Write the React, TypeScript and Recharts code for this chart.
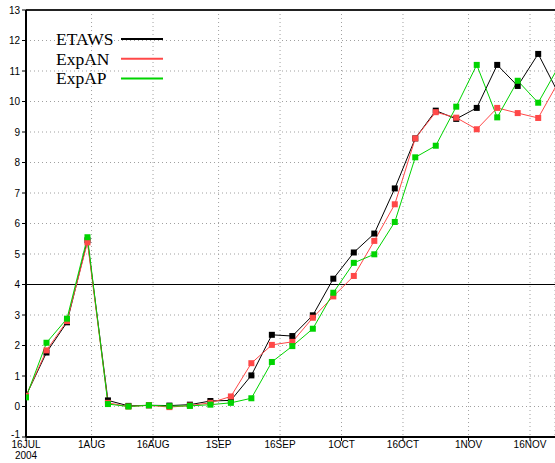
import React from 'react';
import { LineChart, Line, XAxis, YAxis, CartesianGrid, ReferenceLine } from 'recharts';

const days = [0, 5, 10, 15, 20, 25, 30, 35, 40, 45, 50, 55, 60, 65, 70, 75, 80, 85, 90, 95, 100, 105, 110, 115, 120, 125, 130];
const etaws = [0.35, 1.77, 2.76, 5.45, 0.2, 0.02, 0.04, 0.03, 0.06, 0.18, 0.2, 1.02, 2.35, 2.31, 2.99, 4.19, 5.05, 5.67, 7.15, 8.79, 9.7, 9.43, 9.79, 11.2, 10.51, 11.56, 10.25];
const expAN = [0.35, 1.84, 2.8, 5.38, 0.12, 0.0, 0.04, -0.02, 0.03, 0.12, 0.33, 1.42, 2.02, 2.12, 2.91, 3.61, 4.28, 5.43, 6.63, 8.79, 9.65, 9.47, 9.09, 9.79, 9.62, 9.46, 10.66];
const expAP = [0.3, 2.09, 2.88, 5.55, 0.08, 0.0, 0.04, 0.01, 0.02, 0.06, 0.12, 0.27, 1.46, 1.98, 2.55, 3.73, 4.71, 4.99, 6.05, 8.17, 8.55, 9.83, 11.2, 9.48, 10.68, 9.96, 11.15];

const tickDays = [0, 16, 31, 47, 62, 77, 92, 108, 123];
const tickLabels = ['16JUL', '1AUG', '16AUG', '1SEP', '16SEP', '1OCT', '16OCT', '1NOV', '16NOV'];
const yTicks = [-1, 0, 1, 2, 3, 4, 5, 6, 7, 8, 9, 10, 11, 12, 13];

const seriesNames = ['ETAWS', 'ExpAN', 'ExpAP'];
const seriesColors = ['#000000', '#ff4848', '#00d400'];

const data = days.map((d, i) => ({ day: d, ETAWS: etaws[i], ExpAN: expAN[i], ExpAP: expAP[i] }));

const FONT = 'Liberation Sans, Arial, sans-serif';

const XTick = (props: any) => {
  const { x, y, payload } = props;
  const idx = tickDays.indexOf(payload.value);
  const label = idx >= 0 ? tickLabels[idx] : '';
  return (
    <g>
      <text x={x} y={y + 5} textAnchor="middle" fontSize={10} fontFamily={FONT} fill="#000">
        {label}
      </text>
      {idx === 0 && (
        <text x={x} y={y + 16} textAnchor="middle" fontSize={10} fontFamily={FONT} fill="#000">
          2004
        </text>
      )}
    </g>
  );
};

const YTick = (props: any) => {
  const { x, y, payload } = props;
  const shift = payload.value === -1 ? -3 : 0;
  return (
    <text x={x} y={y + shift} dy="0.355em" textAnchor="end" fontSize={10} fontFamily={FONT} fill="#000">
      {payload.value}
    </text>
  );
};

const makeDot = (color: string) => (p: any) => {
  if (p.cx == null || p.cy == null) return <g key={p.index} />;
  return <rect key={p.index} x={p.cx - 3} y={p.cy - 3} width={6} height={6} fill={color} />;
};

export default function App() {
  return (
    <div style={{ position: 'absolute', left: 0, top: 0, width: 555, height: 463, background: '#fff' }}>
      <LineChart width={555} height={463} data={data} margin={{ top: 10, right: 0, bottom: 0, left: 0 }}>
        <CartesianGrid stroke="#a0a0a0" strokeDasharray="1 3" />
        <XAxis
          dataKey="day"
          type="number"
          domain={[0, 129.1]}
          allowDataOverflow
          ticks={tickDays}
          interval={0}
          height={26}
          tickSize={4}
          tickMargin={2}
          tick={<XTick />}
          axisLine={{ stroke: '#000', strokeWidth: 2 }}
          tickLine={{ stroke: '#000' }}
        />
        <YAxis
          type="number"
          domain={[-1, 13]}
          ticks={yTicks}
          interval={0}
          width={26}
          tickSize={4}
          tickMargin={2}
          tick={<YTick />}
          axisLine={{ stroke: '#000', strokeWidth: 2 }}
          tickLine={{ stroke: '#000' }}
        />
        <ReferenceLine y={13} stroke="#222" strokeWidth={2} />
        <ReferenceLine y={4} stroke="#000" strokeWidth={1} />
        {seriesNames.map((name, i) => (
          <Line
            key={name}
            dataKey={name}
            type="linear"
            stroke={seriesColors[i]}
            strokeWidth={1}
            dot={makeDot(seriesColors[i])}
            activeDot={false}
            isAnimationActive={false}
          />
        ))}
      </LineChart>
      <svg width={555} height={463} style={{ position: 'absolute', left: 0, top: 0, pointerEvents: 'none' }}>
        {seriesNames.map((name, i) => (
          <g key={name}>
            <text x={56} y={45 + i * 19.7} fontFamily="Liberation Serif, Times New Roman, serif" fontSize={17.5} fill="#000">
              {name}
            </text>
            <line x1={121} x2={163} y1={39 + i * 19.7} y2={39 + i * 19.7} stroke={seriesColors[i]} strokeWidth={2} />
          </g>
        ))}
      </svg>
    </div>
  );
}
